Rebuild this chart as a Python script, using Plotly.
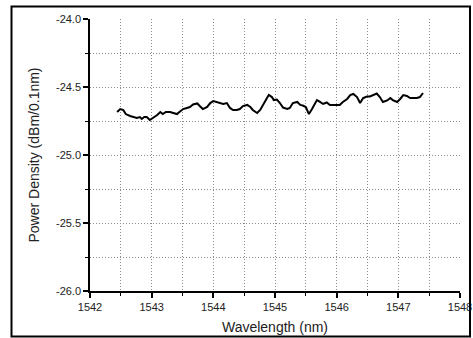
import plotly.graph_objects as go

wavelength = [1542.44, 1542.49, 1542.54, 1542.58, 1542.65, 1542.71, 1542.76, 1542.81, 1542.84, 1542.88,
              1542.92, 1542.97, 1543.02, 1543.09, 1543.14, 1543.18, 1543.23, 1543.30, 1543.35, 1543.41,
              1543.46, 1543.51, 1543.57, 1543.62, 1543.67, 1543.74, 1543.78, 1543.83, 1543.90, 1543.95,
              1544.00, 1544.06, 1544.11, 1544.16, 1544.22, 1544.27, 1544.32, 1544.38, 1544.43, 1544.48,
              1544.55, 1544.60, 1544.64, 1544.71, 1544.76, 1544.81, 1544.87, 1544.90, 1544.95, 1544.98,
              1545.03, 1545.08, 1545.13, 1545.20, 1545.24, 1545.29, 1545.36, 1545.41, 1545.45, 1545.50,
              1545.55, 1545.60, 1545.65, 1545.68, 1545.73, 1545.78, 1545.84, 1545.89, 1545.94, 1546.01,
              1546.05, 1546.10, 1546.17, 1546.22, 1546.27, 1546.33, 1546.38, 1546.43, 1546.49, 1546.54,
              1546.59, 1546.65, 1546.70, 1546.75, 1546.82, 1546.87, 1546.91, 1546.98, 1547.03, 1547.08,
              1547.14, 1547.19, 1547.24, 1547.30, 1547.35, 1547.40]
power = [-24.684, -24.662, -24.669, -24.699, -24.713, -24.724, -24.728, -24.721, -24.735, -24.721,
         -24.721, -24.743, -24.728, -24.706, -24.684, -24.699, -24.684, -24.684, -24.691, -24.699,
         -24.680, -24.662, -24.654, -24.647, -24.629, -24.621, -24.640, -24.662, -24.647, -24.618,
         -24.603, -24.610, -24.618, -24.625, -24.618, -24.654, -24.669, -24.669, -24.662, -24.640,
         -24.632, -24.647, -24.669, -24.691, -24.669, -24.625, -24.581, -24.559, -24.574, -24.596,
         -24.592, -24.618, -24.651, -24.662, -24.654, -24.618, -24.610, -24.632, -24.636, -24.647,
         -24.699, -24.662, -24.625, -24.596, -24.610, -24.625, -24.614, -24.632, -24.632, -24.632,
         -24.632, -24.610, -24.588, -24.559, -24.551, -24.574, -24.618, -24.581, -24.570, -24.570,
         -24.559, -24.548, -24.574, -24.610, -24.599, -24.581, -24.596, -24.610, -24.588, -24.559,
         -24.566, -24.581, -24.581, -24.581, -24.574, -24.544]

x_ticks = [1542, 1543, 1544, 1545, 1546, 1547, 1548]
y_ticks = [-26.0, -25.5, -25.0, -24.5, -24.0]
y_tick_text = ["-26.0", "-25.5", "-25.0", "-24.5", "-24.0"]
x_grid = [1542.5, 1543, 1543.5, 1544, 1544.5, 1545, 1545.5, 1546, 1546.5, 1547, 1547.5]
y_grid = [-25.75, -25.5, -25.25, -25.0, -24.75, -24.5, -24.25]

font = "Liberation Sans, Arial, sans-serif"
grid = "#8c8c8c"
dash = "1px,2px"

fig = go.Figure()
fig.add_trace(go.Scatter(x=wavelength, y=power, mode="lines",
                         line=dict(color="black", width=2), showlegend=False))

fig.update_xaxes(range=[1542, 1548], tickvals=x_ticks, ticktext=[str(v) for v in x_ticks],
                 showline=True, linecolor="black", linewidth=1.5,
                 ticks="outside", ticklen=5, tickcolor="black", tickwidth=1.5,
                 showgrid=False, automargin=False,
                 minor=dict(tickvals=x_grid, ticks="outside", ticklen=3, tickcolor="black", tickwidth=1,
                            showgrid=True, gridcolor=grid, griddash=dash, gridwidth=1),
                 zeroline=False, tickfont=dict(family=font, size=11, color="#222"),
                 title=dict(text="Wavelength (nm)", font=dict(family=font, size=14, color="#222"),
                            standoff=10))
fig.update_yaxes(range=[-26.0, -24.0], tickvals=y_ticks, ticktext=y_tick_text,
                 showline=True, linecolor="black", linewidth=1.5,
                 ticks="outside", ticklen=5, tickcolor="black", tickwidth=1.5,
                 showgrid=False, automargin=False,
                 minor=dict(tickvals=y_grid, ticks="outside", ticklen=3, tickcolor="black", tickwidth=1,
                            showgrid=True, gridcolor=grid, griddash=dash, gridwidth=1),
                 zeroline=False, tickfont=dict(family=font, size=11, color="#222"),
                 title=dict(text="Power Density (dBm/0.1nm)", font=dict(family=font, size=14, color="#222"),
                            standoff=13))

fig.add_shape(type="rect", xref="paper", yref="paper",
              x0=(11.5 - 90) / 370, x1=(470 - 90) / 370,
              y0=-(336.5 - 291) / 272, y1=1 + (19 - 6.5) / 272,
              line=dict(color="black", width=2), fillcolor="rgba(0,0,0,0)", layer="above")

fig.update_layout(width=473, height=338, margin=dict(l=90, r=13, t=19, b=47),
                  paper_bgcolor="white", plot_bgcolor="white")
fig.write_html("out.html")
